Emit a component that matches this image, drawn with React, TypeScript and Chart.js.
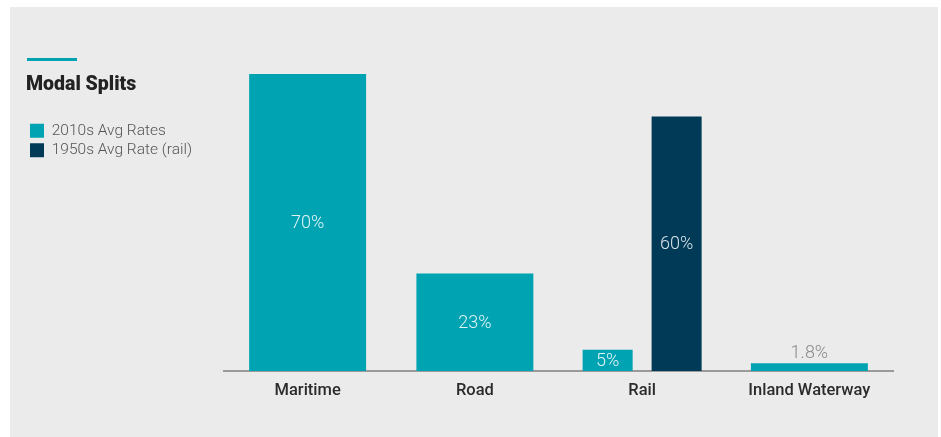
import React, { useEffect, useRef } from 'react';
import { Chart, registerables } from 'chart.js';

Chart.register(...registerables);

// ---- data ----
const categories = ['Maritime', 'Road', 'Rail', 'Inland Waterway'];
const rates2010s: (number | null)[] = [70, 23, null, 1.8];
const rail2010s: (number | null)[] = [null, null, 5, null];
const rail1950s: (number | null)[] = [null, null, 60, null];
const seriesNames = ['2010s Avg Rates', '1950s Avg Rate (rail)'];
const chartTitle = 'Modal Splits';
const yMax = 70;

// ---- style ----
const TEAL = '#00a3b2';
const NAVY = '#003a57';
const PANEL = '#ebebeb';
const FONT = "Roboto, 'Noto Sans', sans-serif";

const W = 928;
const H = 430;
const AREA_LEFT = 214;
const PAD_LEFT = 16;

const accentPlugin = {
  id: 'accentLine',
  afterDraw(chart: any) {
    const lg = chart.legend;
    if (!lg) return;
    const ctx = chart.ctx;
    ctx.save();
    ctx.fillStyle = TEAL;
    ctx.fillRect(lg.left + 1, lg.top - 16, 50, 3);
    ctx.restore();
  },
};

const valueLabelPlugin = {
  id: 'valueLabels',
  afterDatasetsDraw(chart: any) {
    const ctx = chart.ctx;
    ctx.save();
    ctx.textAlign = 'center';
    ctx.textBaseline = 'middle';
    ctx.font = `300 18px ${FONT}`;
    chart.data.datasets.forEach((ds: any, di: number) => {
      const meta = chart.getDatasetMeta(di);
      meta.data.forEach((el: any, i: number) => {
        const v = ds.data[i];
        if (v === null || v === undefined) return;
        const text = `${v}%`;
        if (v >= 5) {
          ctx.fillStyle = di === 2 ? 'rgba(225,235,240,0.95)' : 'rgba(235,248,250,0.95)';
          ctx.fillText(text, el.x, (el.y + el.base) / 2 + 1);
        } else {
          ctx.fillStyle = '#8a8a8a';
          ctx.fillText(text, el.x, el.y - 10);
        }
      });
    });
    ctx.restore();
  },
};

export default function App() {
  const ref = useRef<HTMLCanvasElement | null>(null);

  useEffect(() => {
    if (!ref.current) return;
    const chart = new Chart(ref.current, {
      type: 'bar',
      data: {
        labels: categories,
        datasets: [
          {
            label: seriesNames[0],
            data: rates2010s,
            backgroundColor: TEAL,
            borderWidth: 0,
            categoryPercentage: 0.8,
            barPercentage: 0.874,
            skipNull: true,
          } as any,
          {
            label: seriesNames[0] + ' (rail)',
            data: rail2010s,
            backgroundColor: TEAL,
            borderWidth: 0,
            categoryPercentage: 0.825,
            barPercentage: 0.725,
            skipNull: true,
          } as any,
          {
            label: seriesNames[1],
            data: rail1950s,
            backgroundColor: NAVY,
            borderWidth: 0,
            categoryPercentage: 0.825,
            barPercentage: 0.725,
            skipNull: true,
          } as any,
        ],
      },
      options: {
        responsive: false,
        animation: false,
        devicePixelRatio: 1,
        layout: { padding: { left: PAD_LEFT, right: 45, top: 67, bottom: 26 } },
        plugins: {
          tooltip: { enabled: false },
          title: { display: false },
          legend: {
            display: true,
            position: 'left',
            align: 'start',
            title: {
              display: true,
              text: chartTitle,
              position: 'start',
              color: '#222222',
              font: { family: FONT, size: 19.5, weight: '900', lineHeight: 1.2 },
              padding: { top: 1, bottom: 20.6 },
            },
            labels: {
              boxWidth: 14,
              boxHeight: 14,
              padding: 4,
              color: '#555555',
              font: { family: FONT, size: 15.5, weight: '300' },
              filter: (item: any) => item.datasetIndex !== 1,
            },
          },
        },
        scales: {
          x: {
            grid: { display: false, drawTicks: false },
            border: { display: true, color: '#9a9a9a', width: 2 },
            ticks: {
              color: '#2b2b2b',
              padding: 10,
              font: { family: FONT, size: 16.5, weight: '500' },
            },
            afterFit: (scale: any) => {
              scale.height = 40;
            },
          },
          y: {
            display: true,
            min: 0,
            max: yMax,
            grid: { display: false, drawTicks: false },
            border: { display: false },
            ticks: { display: false },
            afterFit: (scale: any) => {
              const lg = scale.chart.legend;
              scale.width = Math.max(0, AREA_LEFT - PAD_LEFT - (lg ? lg.width : 0));
            },
          },
        },
      },
      plugins: [accentPlugin, valueLabelPlugin],
    });
    return () => chart.destroy();
  }, []);

  return (
    <div
      style={{
        position: 'absolute',
        left: 10,
        top: 7,
        width: W,
        height: H,
        background: PANEL,
      }}
    >
      <canvas ref={ref} width={W} height={H} style={{ display: 'block' }} />
    </div>
  );
}
